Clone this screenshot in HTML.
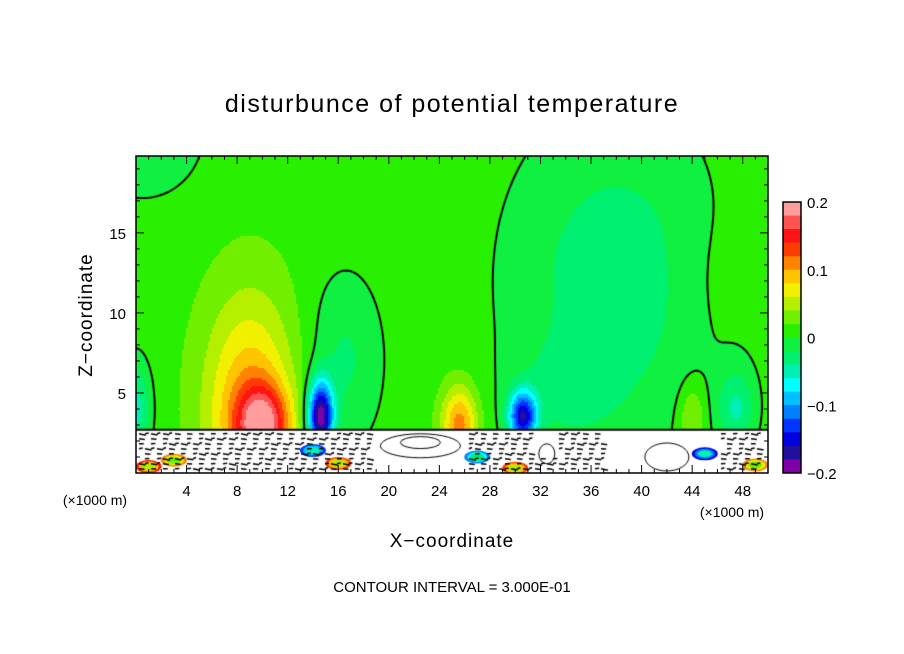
<!DOCTYPE html>
<html><head><meta charset="utf-8"><style>
body{margin:0;background:#fff;width:904px;height:654px;overflow:hidden;font-family:"Liberation Sans",sans-serif}
#wrap{position:relative;width:904px;height:654px}
canvas{position:absolute;left:136px;top:156px}
svg{position:absolute;left:0;top:0}
</style></head><body><div id="wrap">
<canvas id="cv" width="632" height="317"></canvas>
<svg id="sv" width="904" height="654">
<text x="452" y="112" text-anchor="middle" font-size="25" letter-spacing="1.5">disturbunce of potential temperature</text>
<text x="452" y="547" text-anchor="middle" font-size="19" letter-spacing="1">X−coordinate</text>
<text transform="translate(92,315) rotate(-90)" text-anchor="middle" font-size="19" letter-spacing="1">Z−coordinate</text>
<text x="95" y="505" text-anchor="middle" font-size="14">(×1000 m)</text>
<text x="732" y="517" text-anchor="middle" font-size="14">(×1000 m)</text>
<text x="452" y="592" text-anchor="middle" font-size="15">CONTOUR INTERVAL = 3.000E-01</text>
<g id="ax"></g>
</svg></div>
<script>
const xTicks=[4,8,12,16,20,24,28,32,36,40,44,48];
const yTicks=[5,10,15];
const cbTicks=[0.2,0.1,0,-0.1,-0.2];
const cbColors=["#ff9c9c","#ff5252","#ff1414","#ff3c00","#ff8200","#ffc400","#f0f000","#b4f000","#70f000","#28f000","#10f040","#00f070","#00f0b4","#00ffff","#00c0ff","#0080ff","#0034ff","#0000e0","#20109c","#8000a8"];
// blobs: x (km), z (km), sx, sz, amplitude
const blobX=[10,9,14.6,16.5,25.6,30.6,38,34,47.5,0,0.5,44,45];
const blobZ=[3,4,3.5,7,3,3.5,12,5,4,4,21,3.5,12];
const blobSX=[2.0,3.6,1.0,3,1.4,1.1,8.5,4,1.5,1.2,5,1.0,3];
const blobSZ=[2.4,7,2.2,5.5,2.4,1.6,10,3,2.5,3,4,2.0,5];
const blobAmp=[0.13,0.09,-0.2,-0.035,0.1,-0.16,-0.045,-0.025,-0.05,-0.06,-0.03,0.04,0.01];
const base=0.012;
// bottom strip features
const patchX=[1,3,14,16,27,30,45,49];
const patchZ=[0.4,0.8,1.4,0.6,1.0,0.3,1.2,0.5];
const patchV=[0.15,0.12,-0.12,0.14,-0.1,0.14,-0.15,0.12];
const X0=136,X1=768,Y0=473,Y1=156,ZMAX=19.8,ZSTRIP=2.7;
const sx=x=>X0+(x/50)*(X1-X0);
const sz=z=>Y0-(z/ZMAX)*(Y0-Y1);
const cbY=v=>473-(v+0.2)/0.4*271;
function field(x,z){let v=base;for(let i=0;i<blobX.length;i++){const dx=(x-blobX[i])/blobSX[i],dz=(z-blobZ[i])/blobSZ[i];v+=blobAmp[i]*Math.exp(-(dx*dx+dz*dz));}return v;}
function col(v){let k=Math.floor((0.2-v)/0.02);k=Math.max(0,Math.min(19,k));return cbColors[k];}
const cv=document.getElementById('cv'),ctx=cv.getContext('2d');
const S=2;
for(let py=0;py<317;py+=S)for(let px=0;px<632;px+=S){const x=(px+1)/632*50,z=(317-py-1)/317*ZMAX;ctx.fillStyle=col(field(x,z));ctx.fillRect(px,py,S,S);}
// bottom strip
const ys=sz(ZSTRIP)-156;
ctx.fillStyle="#fff";ctx.fillRect(0,ys,632,317-ys);
for(let i=0;i<patchX.length;i++){const cx=sx(patchX[i])-136,cy=sz(patchZ[i])-156;const n=3;for(let k=n;k>=1;k--){ctx.fillStyle=col(patchV[i]*k/n);ctx.beginPath();ctx.ellipse(cx,cy,4+k*3,2+k*1.5,0,0,7);ctx.fill();}}
ctx.strokeStyle="#000";ctx.lineWidth=1.6;
for(let gx=3;gx<622;gx+=6)for(let gy=ys+4;gy<314;gy+=5){const a=((gx*7+gy*13)%17)/17;if((gx>235&&gx<330)||(gx>395&&gx<420&&gy<300)||(gx>470&&gx<580))continue;if(a<0.65){ctx.beginPath();ctx.moveTo(gx,gy);ctx.lineTo(gx+3+a*6,gy+(a-0.3)*4);ctx.stroke();}}
ctx.lineWidth=1;ctx.beginPath();ctx.ellipse(sx(22.5)-136,sz(1.7)-156,40,12,0,0,7);ctx.stroke();
ctx.beginPath();ctx.ellipse(sx(22.5)-136,sz(1.9)-156,20,6,0,0,7);ctx.stroke();
ctx.beginPath();ctx.ellipse(sx(42)-136,sz(1)-156,22,14,0,0,7);ctx.stroke();
ctx.beginPath();ctx.ellipse(sx(32.5)-136,sz(1.2)-156,8,10,0,0,7);ctx.stroke();
// zero contour (marching squares) above strip
ctx.strokeStyle="#000";ctx.lineWidth=2;ctx.beginPath();
const G=3;
for(let py=0;py<ys-G;py+=G)for(let px=0;px<632-G;px+=G){
 const f=(a,b)=>field(a/632*50,(317-b)/317*ZMAX);
 const v=[f(px,py),f(px+G,py),f(px+G,py+G),f(px,py+G)];
 const p=[[px,py],[px+G,py],[px+G,py+G],[px,py+G]];const pts=[];
 for(let e=0;e<4;e++){const a=v[e],b=v[(e+1)%4];if((a<0)!==(b<0)){const t=a/(a-b);const A=p[e],B=p[(e+1)%4];pts.push([A[0]+(B[0]-A[0])*t,A[1]+(B[1]-A[1])*t]);}}
 if(pts.length>=2){ctx.moveTo(pts[0][0],pts[0][1]);ctx.lineTo(pts[1][0],pts[1][1]);}
 if(pts.length===4){ctx.moveTo(pts[2][0],pts[2][1]);ctx.lineTo(pts[3][0],pts[3][1]);}
}
ctx.stroke();
ctx.lineWidth=2;ctx.beginPath();ctx.moveTo(0,ys);ctx.lineTo(632,ys);ctx.stroke();
// axes
const NS="http://www.w3.org/2000/svg",ax=document.getElementById('ax');
function mk(t,at){const e=document.createElementNS(NS,t);for(const k in at)e.setAttribute(k,at[k]);ax.appendChild(e);return e;}
const fr=mk('rect',{x:X0,y:Y1,width:X1-X0,height:Y0-Y1,fill:'none',stroke:'#000','stroke-width':1.5});


for(let x=1;x<50;x++){const l=mk('line',{x1:sx(x),x2:sx(x),y1:Y0,y2:Y0-(x%4===0?8:4),stroke:'#000'});


const l2=mk('line',{x1:sx(x),x2:sx(x),y1:Y1,y2:Y1+(x%4===0?8:4),stroke:'#000'});

}
xTicks.forEach(t=>{const e=mk('text',{x:sx(t),y:496,'text-anchor':'middle','font-size':15});e.textContent=t;

});
for(let z=1;z<20;z++){const l=mk('line',{x1:X0,x2:X0+(z%5===0?8:4),y1:sz(z),y2:sz(z),stroke:'#000'});


const l2=mk('line',{x1:X1,x2:X1-(z%5===0?8:4),y1:sz(z),y2:sz(z),stroke:'#000'});

}
yTicks.forEach(t=>{const e=mk('text',{x:126,y:sz(t)+6,'text-anchor':'end','font-size':15});e.textContent=t;

});
cbColors.forEach((c,i)=>{const v0=0.2-i*0.02;const r=mk('rect',{x:783,y:cbY(v0),width:18,height:cbY(v0-0.02)-cbY(v0)+0.5,fill:c});

});
const cb=mk('rect',{x:783,y:202,width:18,height:271,fill:'none',stroke:'#000','stroke-width':1.5});


cbTicks.forEach(t=>{const e=mk('text',{x:807,y:cbY(t)+6,'font-size':15});e.textContent=t===0?'0':(t<0?'−'+(-t):t);

});
</script></body></html>
